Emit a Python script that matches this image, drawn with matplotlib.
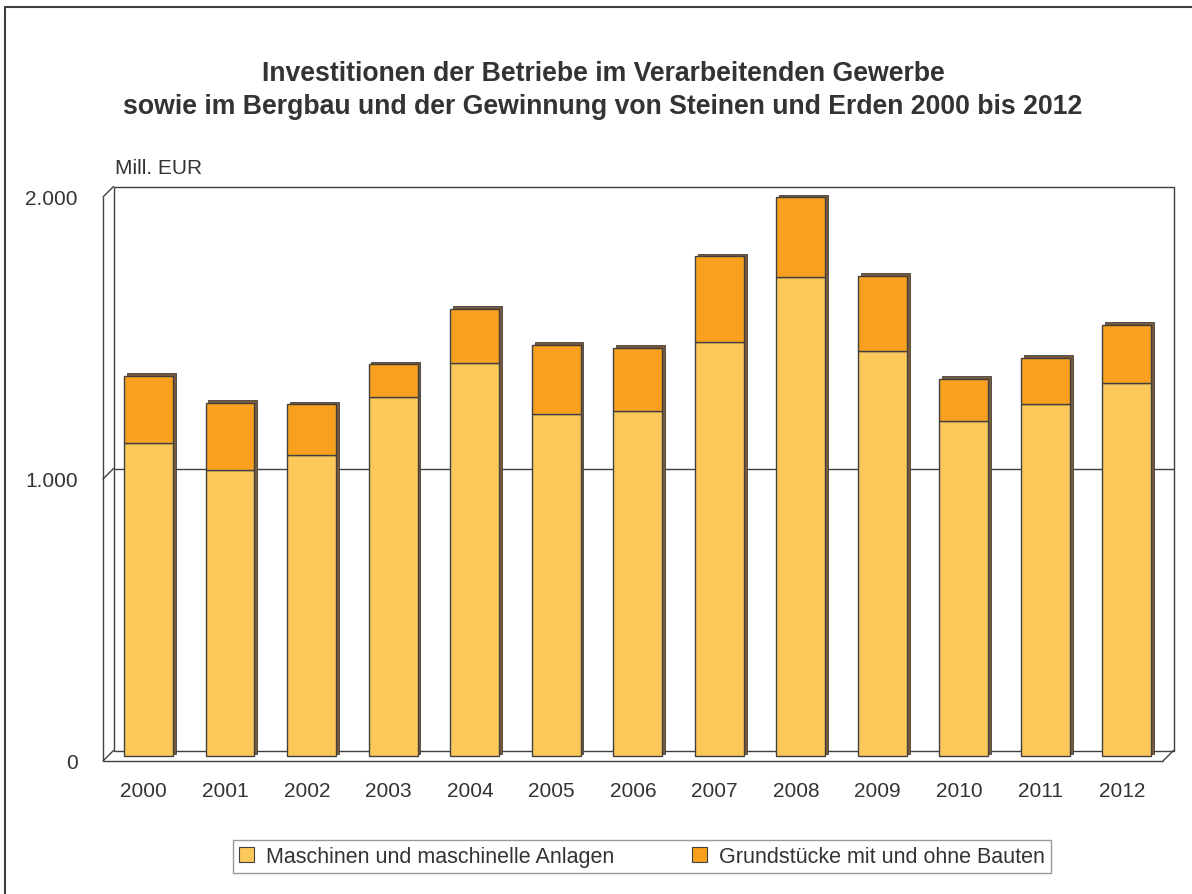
import matplotlib
matplotlib.use("Agg")
import matplotlib.pyplot as plt
import matplotlib.transforms as mtransforms
from matplotlib.patches import ConnectionPatch, Rectangle, Patch

years = ["2000", "2001", "2002", "2003", "2004", "2005", "2006",
         "2007", "2008", "2009", "2010", "2011", "2012"]
maschinen = [1111, 1016, 1067, 1275, 1395, 1214, 1224, 1468, 1701, 1436, 1188, 1248, 1325]
grundstuecke = [239, 237, 181, 115, 191, 245, 223, 305, 281, 267, 149, 165, 205]
series_names = ["Maschinen und maschinelle Anlagen", "Grundstücke mit und ohne Bauten"]
yticks = [0, 1000, 2000]
ytick_labels = ["0", "1.000", "2.000"]
title = ("Investitionen der Betriebe im Verarbeitenden Gewerbe\n"
         "sowie im Bergbau und der Gewinnung von Steinen und Erden 2000 bis 2012")

plt.rcParams['font.family'] = ['Liberation Sans', 'DejaVu Sans']
TXT = '#333333'
LINE = '#404040'
C_LIGHT = '#FDC85A'
C_DARK = '#F9A01E'
C_SIDE = '#7A5A3A'

W, H = 1192, 895
fig = plt.figure(figsize=(W / 100, H / 100), dpi=100)

# front plane of the pseudo-3D box (pixels)
x0, x1 = 103, 1163
y_bot, y_top = 762, 198
ax = fig.add_axes([x0 / W, 1 - y_bot / H, (x1 - x0) / W, (y_bot - y_top) / H])
ax.set_xlim(-0.5, len(years) - 0.5)
ax.set_ylim(0, 2000)
ax.axis('off')

D = 10.5        # depth of the box (px)
DB = 4.7        # bar plane depth
DS = 2.8        # bar thickness
back = mtransforms.offset_copy(ax.transData, fig=fig, x=D, y=D, units='dots')
barplane = mtransforms.offset_copy(ax.transData, fig=fig, x=DB, y=DB, units='dots')
barback = mtransforms.offset_copy(ax.transData, fig=fig, x=DB + DS, y=DB + DS, units='dots')

xl, xr = -0.5, len(years) - 0.5
lk = dict(color=LINE, lw=1.0, clip_on=False, solid_capstyle='butt')
# back wall
ax.plot([xl, xr, xr, xl, xl], [2000, 2000, 0, 0, 2000], transform=back, zorder=1, **lk)
ax.plot([xl, xr], [1000, 1000], transform=back, zorder=1, **lk)
# front left axis edge and floor front edge
ax.plot([xl, xl], [0, 2000], zorder=1, **lk)
ax.plot([xl, xr], [0, 0], zorder=1, **lk)
# diagonals
for (xx, yy) in [(xl, 0), (xl, 1000), (xl, 2000), (xr, 0)]:
    cp = ConnectionPatch(xyA=(xx, yy), coordsA=ax.transData, xyB=(xx, yy), coordsB=back,
                         color=LINE, lw=1.0, zorder=1)
    ax.add_artist(cp)

xs = list(range(len(years)))
totals = [m + g for m, g in zip(maschinen, grundstuecke)]
bw = 0.6
# bar depth (side / top faces)
ax.bar(xs, totals, bw, color=C_SIDE, edgecolor=LINE, linewidth=0.6,
       transform=barback, zorder=2, clip_on=False)
# front faces
ax.bar(xs, maschinen, bw, color=C_LIGHT, edgecolor=LINE, linewidth=1.0,
       transform=barplane, zorder=3, clip_on=False)
ax.bar(xs, grundstuecke, bw, bottom=maschinen, color=C_DARK, edgecolor=LINE,
       linewidth=1.0, transform=barplane, zorder=3, clip_on=False)

# tick labels
xlab_tr = mtransforms.offset_copy(ax.transData, fig=fig, x=0, y=-30, units='dots')
for x, lab in zip(xs, years):
    ax.text(x, 0, lab, ha='center', va='center', fontsize=15, color=TXT, transform=xlab_tr)
ylab_tr = mtransforms.offset_copy(ax.transData, fig=fig, x=-25, y=-2, units='dots')
for yv, lab in zip(yticks, ytick_labels):
    ax.text(xl, yv, lab, ha='right', va='center', fontsize=15, color=TXT, transform=ylab_tr)

fig.text(115 / W, 1 - 168 / H, "Mill. EUR", ha='left', va='center', fontsize=15, color=TXT)
fig.text(603 / W, 1 - 90.5 / H, title, ha='center', va='center', fontsize=19.2,
         fontweight='bold', color=TXT, linespacing=1.32)

handles = [Patch(facecolor=C_LIGHT, edgecolor=LINE, linewidth=0.8),
           Patch(facecolor=C_DARK, edgecolor=LINE, linewidth=0.8)]
leg = fig.legend(handles, series_names, loc='center', ncol=2,
                 bbox_to_anchor=(642 / W, 1 - 857.5 / H), fontsize=15.5, frameon=True,
                 fancybox=False, edgecolor='#808080', handlelength=0.7, handleheight=0.7,
                 handletextpad=0.55, columnspacing=3.6, borderpad=0.3, labelcolor=TXT)
leg.get_frame().set_linewidth(1.0)

# outer border
fig.add_artist(Rectangle((4.5 / W, -0.02), 1.05, 1 - 7.5 / H + 0.02, transform=fig.transFigure,
                         fill=False, edgecolor=LINE, lw=1.5, clip_on=False))

fig.savefig("out.png", dpi=100)
